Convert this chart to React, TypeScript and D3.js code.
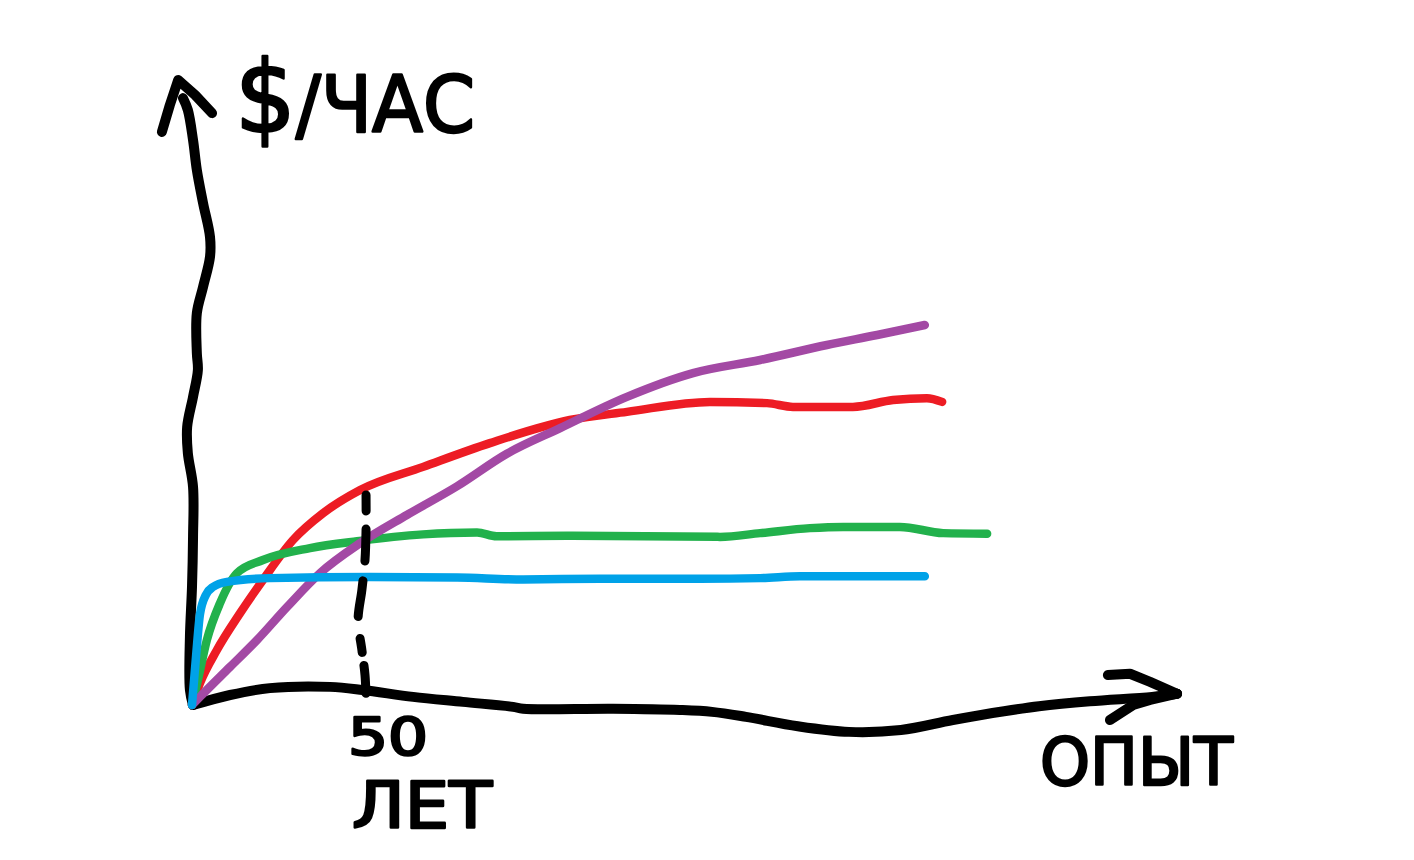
import React from "react";
import * as d3 from "d3";

// Units: x = years of experience, y = $ per hour (sketch units)
type P = [number, number];

const BLUE: P[] = [[0,0],[1.2,8.0],[2.3,14.5],[4.0,17.6],[6.1,18.9],[10.1,19.7],[22.5,20.3],[51.4,20.5],[76.6,20.4],[95.7,20.1],[117.9,20.2],[146.8,20.2],[164.2,20.3],[175.7,20.6],[196.0,20.6],[211.8,20.6]];
const GREEN: P[] = [[0,0],[1.7,4.0],[4.3,10.4],[8.1,16.3],[13.0,21.1],[20.5,23.2],[34.1,25.1],[47.7,26.2],[66.8,27.3],[82.4,27.6],[88.0,27.0],[109.2,27.1],[152.6,26.9],[164.2,27.5],[178.6,28.3],[188.2,28.5],[204.6,28.5],[217.1,27.5],[229.8,27.4]];
const RED: P[] = [[0,0],[2.3,3.5],[7.2,8.8],[13.9,14.7],[20.5,20.0],[29.2,26.4],[37.9,30.7],[48.6,34.4],[66.8,38.1],[86.1,41.9],[109.2,45.6],[125.7,46.9],[149.7,48.5],[166.2,48.3],[173.7,47.7],[191.0,47.7],[202.6,48.8],[212.4,49.1],[216.8,48.5]];
const PURPLE: P[] = [[0,0],[2.3,1.3],[11.0,6.1],[18.8,10.4],[27.5,15.7],[37.0,21.1],[48.6,25.9],[62.1,30.4],[76.6,35.0],[91.0,40.2],[106.4,44.3],[125.7,49.3],[144.8,53.1],[164.2,55.2],[183.5,57.6],[198.0,59.2],[211.8,60.8]];

const SERIES = [
  { name: "red", color: "#ed1c24", points: RED },
  { name: "green", color: "#22b14c", points: GREEN },
  { name: "purple", color: "#a349a4", points: PURPLE },
  { name: "blue", color: "#00a2e8", points: BLUE },
];

// Hand-drawn axes and marker line, in the same units
const X_AXIS: P[] = [[0.3,0],[11.0,1.6],[22.5,2.7],[39.9,2.9],[49.4,2.4],[63.9,1.3],[78.3,0.5],[92.8,-0.3],[95.7,-0.6],[121.7,-0.6],[141.0,-0.8],[150.3,-1.1],[160.1,-1.9],[175.1,-3.4],[189.9,-4.3],[204.9,-4.0],[219.9,-2.4],[234.7,-1.0],[244.8,-0.2],[259.5,0.6],[277.5,1.3],[284.7,1.8]];
const X_ARROW_UP: P[] = [[264.7,4.8],[271.1,5.0],[276.9,3.7],[284.7,1.8]];
const X_ARROW_DOWN: P[] = [[284.7,1.8],[276.9,0.8],[272.0,0.0],[265.3,-2.4]];
const Y_AXIS: P[] = [[0.3,0],[-0.6,2.4],[-0.6,10.9],[0,18.9],[0.3,26.9],[0.3,34.9],[-1.2,40.3],[-1.4,44.5],[0.3,49.3],[1.7,53.6],[1.4,56.3],[1.4,62.7],[3.2,66.9],[5.2,71.7],[5.2,74.9],[3.2,80.3],[1.4,85.6],[0.3,90.4],[-1.2,95.2],[-2.6,97.1]];
const Y_ARROW: P[] = [[-8.7,91.7],[-6.4,96.0],[-4.0,100.0],[0.9,97.6],[5.8,94.7]];
const MARKER_X = 50;
const MARKER: P[] = [[50.3,33.6],[50.3,28.0],[50,23.2],[49.1,18.4],[48.0,13.6],[49.1,8.8],[50,4.8],[50.3,1.3]];

const Y_LABEL = "$/ЧАС";
const X_LABEL = "ОПЫТ";
const MARK_VALUE = String(MARKER_X);
const MARK_UNIT = "ЛЕТ";

export default function App() {
  const W = 1414, H = 860;
  const x = d3.scaleLinear().domain([0, 50]).range([192, 365]);
  const y = d3.scaleLinear().domain([0, 100]).range([705, 80]);
  const smooth = d3.line<P>().x(d => x(d[0])).y(d => y(d[1])).curve(d3.curveMonotoneX);
  const line = d3.line<P>().x(d => x(d[0])).y(d => y(d[1])).curve(d3.curveCatmullRom.alpha(0.5));
  const straight = d3.line<P>().x(d => x(d[0])).y(d => y(d[1])).curve(d3.curveLinear);

  const ink = { fill: "none", stroke: "#000", strokeWidth: 10, strokeLinecap: "round" as const, strokeLinejoin: "round" as const };
  const txt = { fontFamily: "DejaVu Sans", fill: "#000", stroke: "#000", strokeWidth: 2.5, strokeLinejoin: "round" as const };

  return (
    <svg width={W} height={H} style={{ position: "absolute", left: 0, top: 0, background: "#fff" }}>
      <rect x={0} y={0} width={W} height={H} fill="#fff" />
      <path d={line(X_AXIS) || ""} {...ink} />
      <path d={straight(X_ARROW_UP) || ""} {...ink} />
      <path d={straight(X_ARROW_DOWN) || ""} {...ink} />
      <path d={line(Y_AXIS) || ""} {...ink} />
      <path d={straight(Y_ARROW) || ""} {...ink} />
      {SERIES.map(s => (
        <path key={s.name} d={smooth(s.points) || ""} fill="none" stroke={s.color} strokeWidth={8.5} strokeLinecap="round" strokeLinejoin="round" />
      ))}
      <path d={line(MARKER) || ""} {...ink} strokeWidth={9} strokeDasharray="16 18 32 20 36 22 14 13 28 40" />
      <text x={235} y={132} fontSize={78} textLength={240} lengthAdjust="spacingAndGlyphs" {...txt}>
        <tspan fontSize={100}>$</tspan>{Y_LABEL.slice(1)}
      </text>
      <text x={348} y={755} fontSize={52} textLength={80} lengthAdjust="spacingAndGlyphs" {...txt}>{MARK_VALUE}</text>
      <text x={352} y={828} fontSize={64} textLength={140} lengthAdjust="spacingAndGlyphs" {...txt}>{MARK_UNIT}</text>
      <text x={1040} y={785} fontSize={66} textLength={193} lengthAdjust="spacingAndGlyphs" {...txt}>{X_LABEL}</text>
    </svg>
  );
}
